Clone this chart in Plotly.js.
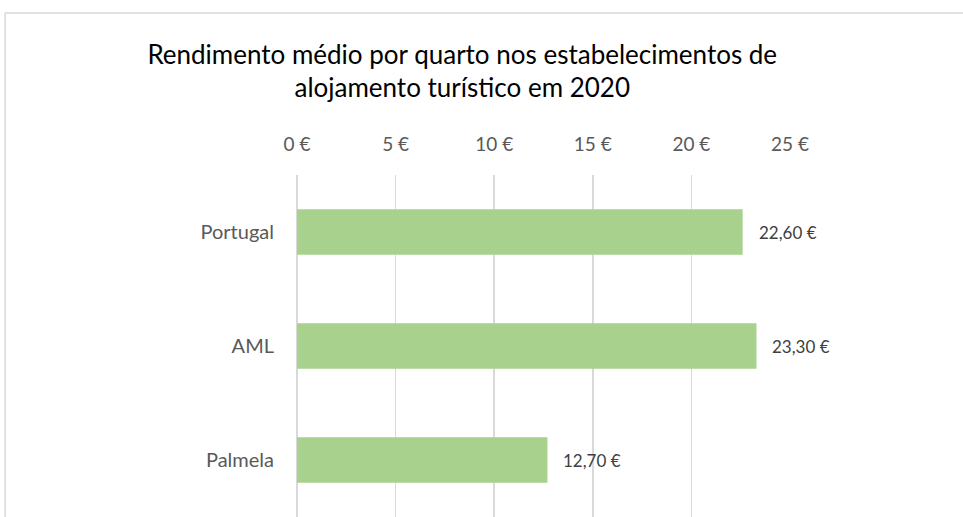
<!DOCTYPE html>
<html>
<head>
<meta charset="utf-8">
<script src="https://cdn.plot.ly/plotly-3.0.1.min.js"></script>
<style>
  html, body { margin: 0; padding: 0; background: #fff; }
  #chart { width: 963px; height: 517px; }
</style>
</head>
<body>
<div id="chart"></div>
<script>
// data
const regions = ['Portugal', 'AML', 'Palmela'];
const rendimento = [22.60, 23.30, 12.70];
const tickValues = [0, 5, 10, 15, 20, 25];
const tickLabels = ['0 €', '5 €', '10 €', '15 €', '20 €', '25 €'];

const fontFamily = 'Lato, "Open Sans", sans-serif';

function euro(v) {
    return v.toFixed(2).replace('.', ',') + ' €';
}

const bars = {
    type: 'bar',
    orientation: 'h',
    x: rendimento,
    y: regions,
    width: 0.4,
    marker: { color: '#A9D18E' },
    hoverinfo: 'x+y'
};

// value labels to the right of each bar
const labels = regions.map((r, i) => ({
    x: rendimento[i],
    y: r,
    xref: 'x',
    yref: 'y',
    text: euro(rendimento[i]),
    showarrow: false,
    xanchor: 'left',
    xshift: 14,
    font: { family: fontFamily, size: 17, color: '#404040' }
}));

const layout = {
    width: 963,
    height: 517,
    margin: { l: 297, r: 173, t: 175, b: 0 },
    paper_bgcolor: '#ffffff',
    plot_bgcolor: '#ffffff',
    showlegend: false,
    title: {
        text: 'Rendimento médio por quarto nos estabelecimentos de<br>alojamento turístico em 2020',
        font: { family: fontFamily, size: 26, color: '#000000' },
        x: 0.48,
        xanchor: 'center',
        y: 0.877,
        yanchor: 'top'
    },
    xaxis: {
        side: 'top',
        range: [0, 25],
        tickvals: tickValues,
        ticktext: tickLabels,
        showgrid: true,
        gridcolor: '#D9D9D9',
        gridwidth: 1.5,
        zeroline: true,
        zerolinecolor: '#D9D9D9',
        zerolinewidth: 1.5,
        showline: false,
        ticks: '',
        ticklabelstandoff: 19,
        tickfont: { family: fontFamily, size: 19, color: '#595959' },
        fixedrange: true
    },
    yaxis: {
        type: 'category',
        range: [2.5, -0.5],
        showgrid: false,
        zeroline: false,
        showline: false,
        ticks: '',
        ticklabelstandoff: 22,
        tickfont: { family: fontFamily, size: 20, color: '#595959' },
        fixedrange: true
    },
    annotations: labels,
    shapes: [{
        type: 'rect',
        xref: 'paper',
        yref: 'paper',
        x0: -0.592,
        x1: 1.4,
        y0: -0.1,
        y1: 1.4737,
        line: { color: '#D9D9D9', width: 1.5 },
        fillcolor: 'rgba(0,0,0,0)',
        layer: 'below'
    }]
};

Plotly.newPlot('chart', [bars], layout, { displayModeBar: false, staticPlot: true });
</script>
</body>
</html>
